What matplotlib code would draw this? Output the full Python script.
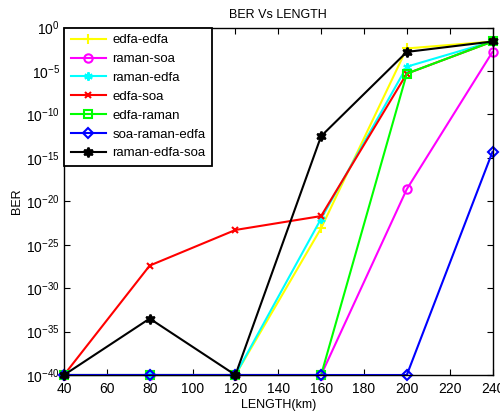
import matplotlib
matplotlib.use("Agg")
import matplotlib.pyplot as plt
import numpy as np

plt.rcParams['font.family'] = ['Liberation Sans', 'DejaVu Sans']
plt.rcParams['mathtext.fontset'] = 'custom'
plt.rcParams['mathtext.rm'] = 'Liberation Sans'

length_km = [40, 80, 120, 160, 200, 240]

# BER exponents (log10) per configuration
edfa_edfa = [-40, -40, -40, -23.1, -2.4, -1.6]
raman_soa = [-40, -40, -40, -40, -18.6, -2.8]
raman_edfa = [-40, -40, -40, -22.0, -4.5, -1.6]
edfa_soa = [-40, -27.4, -23.3, -21.7, -5.3, -1.6]
edfa_raman = [-40, -40, -40, -40, -5.3, -1.6]
soa_raman_edfa = [-40, -40, -40, -40, -40, -14.3]
raman_edfa_soa = [-40, -33.5, -40, -12.5, -2.8, -1.6]

series = [
    ("edfa-edfa", edfa_edfa, "#ffff00", "+", 7, False),
    ("raman-soa", raman_soa, "#ff00ff", "o", 6, False),
    ("raman-edfa", raman_edfa, "#00ffff", (6, 2, 0), 6, False),
    ("edfa-soa", edfa_soa, "#ff0000", "x", 4.5, False),
    ("edfa-raman", edfa_raman, "#00ff00", "s", 6, False),
    ("soa-raman-edfa", soa_raman_edfa, "#0000ff", "D", 5, False),
    ("raman-edfa-soa", raman_edfa_soa, "#000000", (6, 1, 0), 7, True),
]

fig = plt.figure(figsize=(5.0, 4.12), dpi=100)
ax = fig.add_axes([0.128, 0.0898, 0.857, 0.8432])

for name, vals, col, mk, ms, filled in series:
    ber = np.power(10.0, np.array(vals, dtype=float))
    ax.semilogy(length_km, ber, color=col, lw=1.5, marker=mk, ms=ms,
                mfc=col if filled else 'none', mec=col, mew=1.5,
                label=name, clip_on=False)

ax.set_xlim(40, 240)
ax.set_ylim(1e-40, 1e0)
ax.set_xticks(np.arange(40, 241, 20))
ax.set_yticks([10.0 ** k for k in range(-40, 1, 5)])
ax.yaxis.set_minor_locator(matplotlib.ticker.NullLocator())
ax.tick_params(direction='in', top=True, right=True, length=4, width=0.8,
               labelsize=10)
ax.tick_params(axis='x', pad=5)
ax.tick_params(axis='y', pad=3)
for s in ax.spines.values():
    s.set_linewidth(1.0)

ax.set_title("BER Vs LENGTH", fontsize=9, pad=7)
ax.set_xlabel("LENGTH(km)", fontsize=9, labelpad=2)
ax.set_ylabel("BER", fontsize=9, labelpad=2)

leg = ax.legend(loc='upper left', fontsize=9.5, fancybox=False, framealpha=1,
                edgecolor='black', handlelength=2.7, borderaxespad=0,
                labelspacing=0.5, handletextpad=0.45, borderpad=0.5)
leg.get_frame().set_linewidth(1.3)

fig.savefig("out.png", dpi=100)
